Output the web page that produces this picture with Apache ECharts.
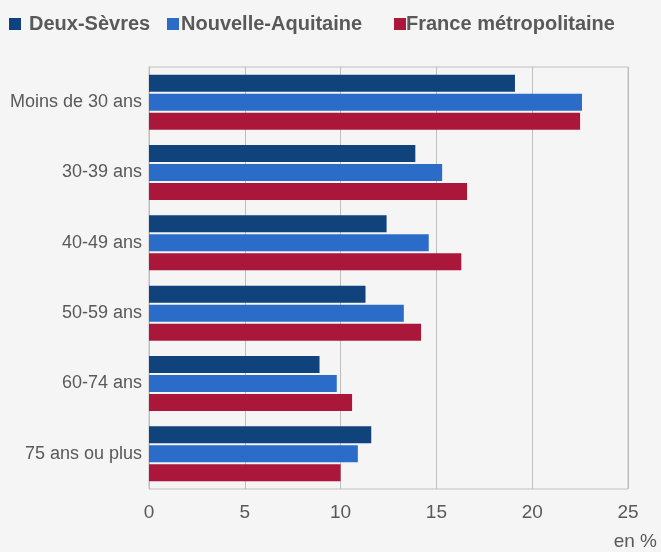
<!DOCTYPE html>
<html>
<head>
<meta charset="utf-8">
<script src="https://cdn.jsdelivr.net/npm/echarts@6/dist/echarts.min.js"></script>
<style>
    html, body { margin: 0; padding: 0; background: #f5f5f5; }
    #main { width: 661px; height: 552px; }
</style>
</head>
<body>
<div id="main"></div>
<script>
    // tranches d'âge et parts (en %)
    var categories = ['Moins de 30 ans', '30-39 ans', '40-49 ans', '50-59 ans', '60-74 ans', '75 ans ou plus'];
    var seriesNames = ['Deux-Sèvres', 'Nouvelle-Aquitaine', 'France métropolitaine'];
    var deuxSevres = [19.1, 13.9, 12.4, 11.3, 8.9, 11.6];
    var nouvelleAquitaine = [22.6, 15.3, 14.6, 13.3, 9.8, 10.9];
    var franceMetro = [22.5, 16.6, 16.3, 14.2, 10.6, 10.0];
    var xTicks = [0, 25, 5];

    var colors = ['#10427c', '#2b6cc9', '#ab173a'];
    var font = '"Liberation Sans", Arial, sans-serif';
    var myChart = echarts.init(document.getElementById('main'));

    function serie(i, data) {
        return {
            name: seriesNames[i],
            type: 'bar',
            data: data,
            barWidth: 17,
            barGap: '12%',
            itemStyle: { color: colors[i] },
            emphasis: { disabled: true }
        };
    }

    // une légende par entrée pour caler les positions
    var legendLeft = [9, 167, 394];
    var legendPad = [3, -3, -5];
    var legends = seriesNames.map(function (name, i) {
        return {
            top: 14,
            left: legendLeft[i],
            padding: 0,
            itemWidth: 12,
            itemHeight: 12,
            icon: 'rect',
            selectedMode: false,
            textStyle: { fontSize: 20, fontWeight: 'bold', color: '#595959', fontFamily: font, padding: [0, 0, 0, legendPad[i]] },
            data: [name]
        };
    });

    var option = {
        backgroundColor: '#f5f5f5',
        animation: false,
        textStyle: { fontFamily: font },
        legend: legends,
        grid: {
            left: 149,
            right: 33,
            top: 67,
            bottom: 63,
            show: true,
            borderColor: '#c0c0c0',
            borderWidth: 1,
            backgroundColor: 'transparent'
        },
        xAxis: {
            type: 'value',
            min: xTicks[0],
            max: xTicks[1],
            interval: xTicks[2],
            axisLine: { show: false },
            axisTick: { show: false },
            splitLine: { lineStyle: { color: '#bdbdbd', width: 1 } },
            axisLabel: { fontSize: 19, color: '#595959', margin: 14, fontFamily: font }
        },
        yAxis: {
            type: 'category',
            data: categories,
            inverse: true,
            axisLine: { lineStyle: { color: '#bdbdbd' } },
            axisTick: { show: false },
            axisLabel: { fontSize: 18, color: '#595959', margin: 7, fontFamily: font }
        },
        graphic: [{
            type: 'text',
            right: 4,
            top: 532,
            style: { text: 'en %', fontSize: 19, fill: '#595959', fontFamily: font }
        }],
        series: [
            serie(0, deuxSevres),
            serie(1, nouvelleAquitaine),
            serie(2, franceMetro)
        ]
    };

    myChart.setOption(option);
</script>
</body>
</html>
